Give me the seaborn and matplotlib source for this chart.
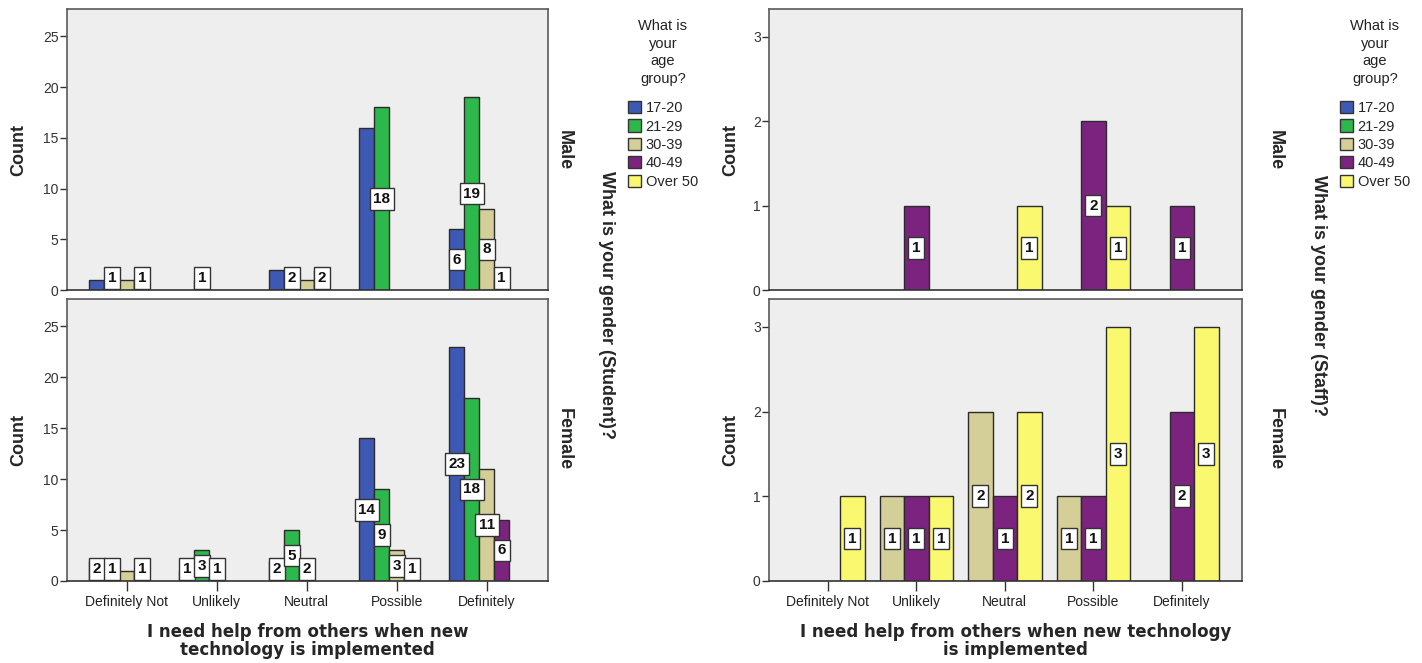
# Recreating the SPSS clustered bar charts (students vs staff)
import pandas as pd
import seaborn as sns
import matplotlib.pyplot as plt
from matplotlib.patches import Patch
from matplotlib.colors import to_hex

# ---------------- data ----------------
responses = ["Definitely Not", "Unlikely", "Neutral", "Possible", "Definitely"]
age_groups = ["17-20", "21-29", "30-39", "40-49", "Over 50"]
age_colors = ["#3e59b3", "#2db84b", "#d4cf98", "#7c237f", "#f9f86f"]

# students (counts per response, one list per age group)
student_male = {
    "17-20": [1, 0, 2, 16, 6],
    "21-29": [1, 1, 2, 18, 19],
    "30-39": [1, 0, 1, 0, 8],
    "40-49": [1, 0, 2, 0, 1],
    "Over 50": [0, 0, 0, 0, 0],
}
student_female = {
    "17-20": [2, 1, 2, 14, 23],
    "21-29": [1, 3, 5, 9, 18],
    "30-39": [1, 1, 2, 3, 11],
    "40-49": [1, 0, 0, 1, 6],
    "Over 50": [0, 0, 0, 0, 0],
}
# staff only has the three older age groups
staff_ages = ["30-39", "40-49", "Over 50"]
staff_male = {
    "30-39": [0, 0, 0, 0, 0],
    "40-49": [0, 1, 0, 2, 1],
    "Over 50": [0, 0, 1, 1, 0],
}
staff_female = {
    "30-39": [0, 1, 2, 1, 0],
    "40-49": [0, 1, 1, 1, 2],
    "Over 50": [1, 1, 2, 3, 3],
}

# labels SPSS dropped because they overlapped
hidden_student_male = [("Definitely Not", "17-20"), ("Definitely Not", "30-39"),
                       ("Neutral", "17-20"), ("Neutral", "30-39"),
                       ("Possible", "17-20")]
hidden_student_female = [("Definitely Not", "30-39")]

palette = dict(zip(age_groups, age_colors))


def to_long(counts):
    rows = []
    for age, vals in counts.items():
        for resp, v in zip(responses, vals):
            if v > 0:
                rows.append({"response": resp, "age": age, "count": v})
    return pd.DataFrame(rows)


# ---------------- style ----------------
sns.set_theme(style="ticks")
plt.rcParams["font.family"] = ["Liberation Sans", "DejaVu Sans"]

W, H = 1422, 663
fig = plt.figure(figsize=(W / 100, H / 100), dpi=100)


def px_axes(x0, y0, x1, y1):
    return fig.add_axes([x0 / W, 1 - y1 / H, (x1 - x0) / W, (y1 - y0) / H])


def draw_panel(ax, counts, hue_levels, hidden, ymax, yticks, floor, bottom):
    df = to_long(counts)
    sns.barplot(data=df, x="response", y="count", hue="age", order=responses,
                hue_order=hue_levels, palette=palette, width=0.83, saturation=1,
                errorbar=None, edgecolor="#2b2b2b", linewidth=1, legend=False, ax=ax)

    color_to_age = {to_hex(palette[a]): a for a in hue_levels}
    for p in ax.patches:
        h = p.get_height()
        if h <= 0:
            continue
        cx = p.get_x() + p.get_width() / 2
        resp = responses[int(round(cx))]
        age = color_to_age.get(to_hex(p.get_facecolor()))
        if (resp, age) in hidden:
            continue
        ax.text(cx, max(h / 2, floor), f"{int(h)}", ha="center", va="center",
                fontsize=11, fontweight="bold", color="#111",
                bbox=dict(boxstyle="square,pad=0.25", fc="white", ec="#333", lw=1))

    ax.set_facecolor("#eeeeee")
    for s in ax.spines.values():
        s.set_visible(True)
        s.set_color("#5a5a5a")
        s.set_linewidth(1.2)
    ax.spines["bottom"].set_color("#333333")
    ax.set_xlim(-0.665, 4.68)
    ax.set_ylim(0, ymax)
    ax.set_yticks(yticks)
    ax.tick_params(axis="y", direction="out", length=5, width=1, color="#333",
                   labelsize=10, labelcolor="#333", pad=1)
    ax.set_ylabel("Count", fontsize=13, fontweight="bold")
    if bottom:
        ax.tick_params(axis="x", direction="out", length=7, width=1, color="#333",
                       labelsize=10, labelcolor="#222", pad=3)
    else:
        ax.set_xticks([])
    ax.set_xlabel("")


xlabel_kw = dict(fontsize=12, fontweight="bold", family="DejaVu Sans", linespacing=1.05)

# ---------------- students ----------------
ax1 = px_axes(67, 9, 548, 290)
ax2 = px_axes(67, 299, 548, 581)
draw_panel(ax1, student_male, age_groups, hidden_student_male, 27.7,
           [0, 5, 10, 15, 20, 25], 1.2, False)
draw_panel(ax2, student_female, age_groups, hidden_student_female, 27.7,
           [0, 5, 10, 15, 20, 25], 1.2, True)
for ax in (ax1, ax2):
    ax.yaxis.set_label_coords(-0.083, 0.5)
ax2.set_xlabel("I need help from others when new\ntechnology is implemented", **xlabel_kw)
ax2.xaxis.set_label_coords(0.5, -0.148)

# ---------------- staff ----------------
ax3 = px_axes(769, 9, 1242, 290)
ax4 = px_axes(769, 299, 1242, 581)
draw_panel(ax3, staff_male, staff_ages, [], 3.33, [0, 1, 2, 3], 0, False)
draw_panel(ax4, staff_female, staff_ages, [], 3.33, [0, 1, 2, 3], 0, True)
for ax in (ax3, ax4):
    ax.yaxis.set_label_coords(-0.063, 0.5)
ax4.set_xlabel("I need help from others when new technology\nis implemented", **xlabel_kw)
ax4.xaxis.set_label_coords(0.522, -0.148)

# ---------------- row labels & titles ----------------
row_kw = dict(rotation=-90, ha="center", va="center", fontsize=13, fontweight="bold")
fig.text(564 / W, 1 - 150 / H, "Male", **row_kw)
fig.text(564 / W, 1 - 439 / H, "Female", **row_kw)
fig.text(1275 / W, 1 - 150 / H, "Male", **row_kw)
fig.text(1275 / W, 1 - 439 / H, "Female", **row_kw)
fig.text(606 / W, 1 - 305 / H, "What is your gender (Student)?", **row_kw)
fig.text(1318 / W, 1 - 295 / H, "What is your gender (Staff)?", **row_kw)

# ---------------- legends ----------------
handles = [Patch(facecolor=c, edgecolor="#333", lw=1) for c in age_colors]
for x0 in (628, 1340):
    fig.text((x0 + 35) / W, 1 - 19 / H, "What is\nyour\nage\ngroup?", ha="center",
             va="top", fontsize=10.5, linespacing=1.33, color="#222")
    fig.legend(handles, age_groups, loc="upper left",
               bbox_to_anchor=(x0 / W, 1 - 101 / H),
               frameon=False, fontsize=10.5,
               handlelength=0.9, handleheight=0.9, handletextpad=0.3,
               labelspacing=0.3, borderpad=0, borderaxespad=0)

fig.savefig("out.png", dpi=100)
